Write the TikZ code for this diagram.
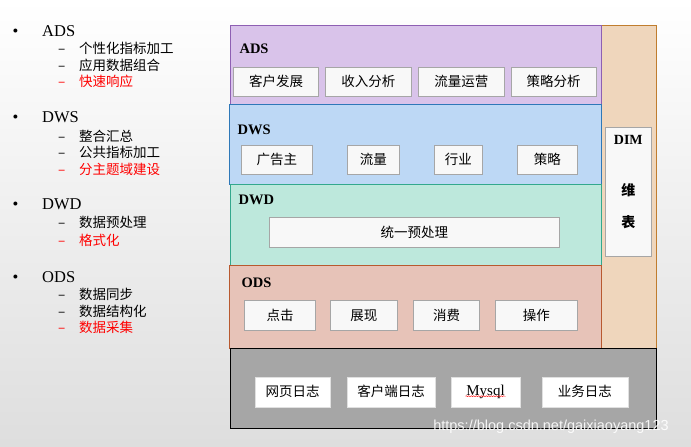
\documentclass[tikz,border=0pt]{standalone}
\usepackage{fontspec}
\setmainfont{Liberation Serif}
\newfontfamily\cjk{Noto Sans CJK SC}
\newfontfamily\wmfont{Liberation Sans}
\usetikzlibrary{decorations.pathmorphing}
\definecolor{adsfill}{HTML}{D9C3EA}
\definecolor{adsline}{HTML}{8E5FB3}
\definecolor{dwsfill}{HTML}{BDD8F5}
\definecolor{dwsline}{HTML}{2E78B8}
\definecolor{dwdfill}{HTML}{BDE8DC}
\definecolor{dwdline}{HTML}{33A88D}
\definecolor{odsfill}{HTML}{E7C3B8}
\definecolor{odsline}{HTML}{B8592F}
\definecolor{dimfill}{HTML}{EFD6BC}
\definecolor{dimline}{HTML}{C07D2E}
\definecolor{cellfill}{HTML}{F8F8F8}
\definecolor{cellline}{HTML}{A6A6A6}
\definecolor{srcfill}{HTML}{A6A6A6}
\begin{document}
\begin{tikzpicture}[x=1pt,y=-1pt,
  cell/.style={draw=cellline,fill=cellfill,line width=0.8pt,inner sep=0pt,font=\cjk\fontsize{13.5}{13.5}\selectfont},
  src/.style={fill=white,draw=white!88!black,inner sep=0pt,minimum height=30,font=\cjk\fontsize{13.5}{13.5}\selectfont},
  layername/.style={anchor=west,font=\bfseries\fontsize{14.5}{14.5}\selectfont},
  head/.style={anchor=base west,inner sep=0pt,font=\fontsize{16.5}{16.5}\selectfont},
  sub/.style={anchor=base west,inner sep=0pt,font=\cjk\fontsize{13.5}{13.5}\selectfont},
  key/.style={sub,text=red}]
\useasboundingbox (0,0) rectangle (691,447);
\shade[top color=white,bottom color=black!13] (0,0) rectangle (691,447);
% left list
\node[head] (b1) at (12.5,36) {\textbullet};
\node[head] (h1) at (42,36) {ADS};
\node[sub] (d11) at (58,53) {–};
\node[sub] (s11) at (79,53) {个性化指标加工};
\node[sub] (d12) at (58,70) {–};
\node[sub] (s12) at (79,70) {应用数据组合};
\node[key] (d13) at (58,86) {–};
\node[key] (s13) at (79,86) {快速响应};
\node[head] (b2) at (12.5,122.5) {\textbullet};
\node[head] (h2) at (42,122.5) {DWS};
\node[sub] (d21) at (58,141) {–};
\node[sub] (s21) at (79,141) {整合汇总};
\node[sub] (d22) at (58,157) {–};
\node[sub] (s22) at (79,157) {公共指标加工};
\node[key] (d23) at (58,174) {–};
\node[key] (s23) at (79,174) {分主题域建设};
\node[head] (b3) at (12.5,209.5) {\textbullet};
\node[head] (h3) at (42,209.5) {DWD};
\node[sub] (d31) at (58,227) {–};
\node[sub] (s31) at (79,227) {数据预处理};
\node[key] (d32) at (58,245) {–};
\node[key] (s32) at (79,245) {格式化};
\node[head] (b4) at (12.5,282.5) {\textbullet};
\node[head] (h4) at (42,282.5) {ODS};
\node[sub] (d41) at (58,299) {–};
\node[sub] (s41) at (79,299) {数据同步};
\node[sub] (d42) at (58,316) {–};
\node[sub] (s42) at (79,316) {数据结构化};
\node[key] (d43) at (58,332) {–};
\node[key] (s43) at (79,332) {数据采集};
% layers
\draw[fill=dimfill,draw=dimline] (601,25) rectangle (656,348);
\draw[fill=adsfill,draw=adsline] (230,25) rectangle (601,104);
\draw[fill=dwsfill,draw=dwsline] (229.5,104.3) rectangle (601,184.3);
\draw[fill=dwdfill,draw=dwdline] (230,184.3) rectangle (601,265.3);
\draw[fill=odsfill,draw=odsline] (229.5,265.3) rectangle (601,348.3);
\draw[fill=srcfill,draw=black] (230.3,348.3) rectangle (656.5,428.3);
\node[layername] (ads) at (236,49) {ADS};
\node[layername] (dws) at (234,130) {DWS};
\node[layername] (dwd) at (235,200) {DWD};
\node[layername] (ods) at (238,283) {ODS};
% ADS
\node[cell,minimum width=85,minimum height=29] (a1) at (276,81.6) {客户发展};
\node[cell,minimum width=86,minimum height=29] (a2) at (368.3,81.6) {收入分析};
\node[cell,minimum width=86,minimum height=29] (a3) at (461.3,81.6) {流量运营};
\node[cell,minimum width=85,minimum height=29] (a4) at (553.7,81.6) {策略分析};
% DWS
\node[cell,minimum width=71,minimum height=29] (w1) at (276.8,159.8) {广告主};
\node[cell,minimum width=52,minimum height=29] (w2) at (373.3,159.8) {流量};
\node[cell,minimum width=48,minimum height=29] (w3) at (458.3,159.8) {行业};
\node[cell,minimum width=60,minimum height=29] (w4) at (547.3,159.8) {策略};
% DWD
\node[cell,minimum width=290,minimum height=30] (p1) at (414.3,232.3) {统一预处理};
% ODS
\node[cell,minimum width=71,minimum height=30] (o1) at (280,315.3) {点击};
\node[cell,minimum width=67,minimum height=30] (o2) at (363.8,315.3) {展现};
\node[cell,minimum width=66,minimum height=30] (o3) at (446.5,315.3) {消费};
\node[cell,minimum width=82,minimum height=30] (o4) at (536.3,315.3) {操作};
% DIM
\node[cell,minimum width=46,minimum height=129] (dim) at (628.3,191.8) {};
\node[font=\bfseries\fontsize{14}{14}\selectfont] (dimt) at (628.3,140) {DIM};
\node[font=\cjk\bfseries\fontsize{14}{14}\selectfont] (dimw) at (628.3,190) {维};
\node[font=\cjk\bfseries\fontsize{14}{14}\selectfont] (dimb) at (628.3,222.5) {表};
% sources
\node[src,minimum width=75] (r1) at (292.5,391.7) {网页日志};
\node[src,minimum width=88] (r2) at (391,391.7) {客户端日志};
\node[src,minimum width=69,font=\fontsize{15}{15}\selectfont] (r3) at (485.5,391.7) {Mysql};
\node[src,minimum width=86] (r4) at (584.8,391.7) {业务日志};
\draw[red,decorate,decoration={snake,amplitude=0.5pt,segment length=2.5pt}] (r3.center) ++(-20,4.5) -- ++(40,0);
\node[font=\wmfont\fontsize{14.5}{14.5}\selectfont,text=white,opacity=0.9] (wm) at (551,427) {https://blog.csdn.net/gaixiaoyang123};
\end{tikzpicture}
\end{document}
